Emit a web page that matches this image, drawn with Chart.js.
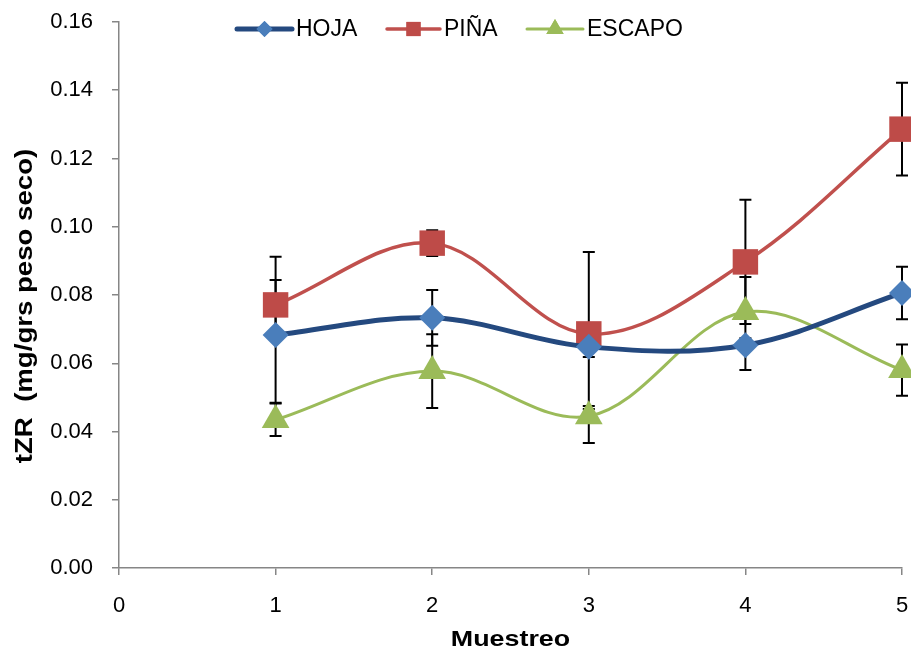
<!DOCTYPE html>
<html>
<head>
<meta charset="utf-8">
<script src="https://cdn.jsdelivr.net/npm/chart.js@4.4.0/dist/chart.umd.min.js"></script>
<style>
  html, body { margin: 0; padding: 0; background: #fff; }
  canvas { display: block; }
</style>
</head>
<body>
<canvas id="myChart" width="911" height="651"></canvas>
<script>
const ctx = document.getElementById('myChart');

// muestreos 1..5
const muestreo = [1, 2, 3, 4, 5];

// tZR (mg/grs peso seco) y error (+ / -) por muestreo
const hoja = [0.0683, 0.0733, 0.0648, 0.0653, 0.0806];
const hojaMas = [0.0161, 0.0082, 0.0030, 0.0020, 0.0077];
const hojaMenos = [0.0199, 0.0082, 0.0030, 0.0073, 0.0077];

const pina = [0.0771, 0.0952, 0.0686, 0.0897, 0.1286];
const pinaMas = [0.0141, 0.0038, 0.0240, 0.0182, 0.0136];
const pinaMenos = [0.0088, 0.0038, 0.0220, 0.0182, 0.0136];

const escapo = [0.0434, 0.0577, 0.0445, 0.0750, 0.0580];
const escapoMas = [0.0048, 0.0108, 0.0030, 0.0103, 0.0075];
const escapoMenos = [0.0047, 0.0108, 0.0079, 0.0103, 0.0075];

const tituloX = 'Muestreo';
const tituloY = 'tZR  (mg/grs peso seco)';

const axisGrey = '#868686';
const fontFam = '"Liberation Sans", Arial, sans-serif';

const toPoints = (vals) => vals.map((v, i) => ({ x: muestreo[i], y: v }));

// vertical error bars with caps, drawn under the lines/markers
const errorBars = {
    id: 'errorBars',
    beforeDatasetsDraw(chart) {
        const c = chart.ctx;
        const y = chart.scales.y;
        c.save();
        c.strokeStyle = '#000';
        c.lineWidth = 2;
        chart.data.datasets.forEach((ds, di) => {
            const meta = chart.getDatasetMeta(di);
            meta.data.forEach((pt, i) => {
                const v = ds.data[i].y;
                const top = y.getPixelForValue(v + ds.errPlus[i]);
                const bot = y.getPixelForValue(v - ds.errMinus[i]);
                c.beginPath();
                c.moveTo(pt.x, top);
                c.lineTo(pt.x, bot);
                c.moveTo(pt.x - 6, top);
                c.lineTo(pt.x + 6, top);
                c.moveTo(pt.x - 6, bot);
                c.lineTo(pt.x + 6, bot);
                c.stroke();
            });
        });
        c.restore();
    }
};

// legend row at the top: line + marker + label
const topLegend = {
    id: 'topLegend',
    afterDraw(chart) {
        const c = chart.ctx;
        const items = [
            { x0: 237, x1: 292, tx: 296 },
            { x0: 387, x1: 440, tx: 444 },
            { x0: 527, x1: 583, tx: 587 }
        ];
        const cy = 29;
        c.save();
        chart.data.datasets.forEach((ds, i) => {
            const it = items[i];
            c.strokeStyle = ds.borderColor;
            c.lineWidth = ds.borderWidth;
            c.lineCap = 'round';
            c.beginPath();
            c.moveTo(it.x0, cy);
            c.lineTo(it.x1, cy);
            c.stroke();
            c.fillStyle = ds.pointBackgroundColor;
            Chart.helpers.drawPoint(c, {
                pointStyle: ds.pointStyle,
                radius: ds.legendRadius,
                borderWidth: 0
            }, (it.x0 + it.x1) / 2, cy);
            c.fill();
            c.fillStyle = '#000';
            c.font = '23px ' + fontFam;
            c.textBaseline = 'middle';
            c.fillText(ds.label, it.tx, cy + 1);
        });
        c.restore();
    }
};

// axis titles, slightly stretched along the text direction
const axisTitles = {
    id: 'axisTitles',
    afterDraw(chart) {
        const c = chart.ctx;
        const area = chart.chartArea;
        c.save();
        c.fillStyle = '#000';
        c.textAlign = 'center';
        c.textBaseline = 'middle';
        c.font = 'bold 22px ' + fontFam;
        c.save();
        c.translate((area.left + area.right) / 2, 640);
        c.scale(1.22, 1);
        c.fillText(tituloX, 0, 0);
        c.restore();
        c.save();
        c.translate(26, 306);
        c.rotate(-Math.PI / 2);
        c.scale(1.2, 1);
        c.font = 'bold 23px ' + fontFam;
        c.fillText(tituloY, 0, 0);
        c.restore();
        c.restore();
    }
};

new Chart(ctx, {
    type: 'line',
    data: {
        datasets: [{
            label: 'HOJA',
            data: toPoints(hoja),
            errPlus: hojaMas,
            errMinus: hojaMenos,
            borderColor: '#24497F',
            borderWidth: 5,
            pointStyle: 'rectRot',
            pointRadius: 13,
            legendRadius: 8,
            pointBackgroundColor: '#4A7EBB',
            pointBorderWidth: 0
        }, {
            label: 'PIÑA',
            data: toPoints(pina),
            errPlus: pinaMas,
            errMinus: pinaMenos,
            borderColor: '#C0504D',
            borderWidth: 3.5,
            pointStyle: 'rect',
            pointRadius: 18,
            legendRadius: 10,
            pointBackgroundColor: '#BE4B48',
            pointBorderWidth: 0
        }, {
            label: 'ESCAPO',
            data: toPoints(escapo),
            errPlus: escapoMas,
            errMinus: escapoMenos,
            borderColor: '#9BBB59',
            borderWidth: 3,
            pointStyle: 'triangle',
            pointRadius: 16,
            legendRadius: 10,
            pointBackgroundColor: '#9BBB59',
            pointBorderWidth: 0
        }]
    },
    options: {
        responsive: false,
        animation: false,
        clip: false,
        elements: {
            line: { tension: 0.35, fill: false }
        },
        layout: {
            autoPadding: false,
            padding: { top: 22, right: 9, left: 0, bottom: 0 }
        },
        plugins: {
            legend: { display: false },
            tooltip: { enabled: false }
        },
        scales: {
            x: {
                type: 'linear',
                min: 0,
                max: 5,
                ticks: {
                    stepSize: 1,
                    color: '#000',
                    padding: 18,
                    font: { family: fontFam, size: 22 }
                },
                grid: { drawOnChartArea: false, drawTicks: true, tickLength: 7, color: axisGrey, lineWidth: 1.5 },
                border: { color: axisGrey, width: 1.5 },
                afterFit(scale) {
                    scale.height = 83;
                    scale.paddingLeft = 0;
                    scale.paddingRight = 0;
                }
            },
            y: {
                min: 0,
                max: 0.16,
                ticks: {
                    stepSize: 0.02,
                    color: '#000',
                    padding: 19,
                    font: { family: fontFam, size: 22 },
                    callback: (v) => v.toFixed(2)
                },
                grid: { drawOnChartArea: false, drawTicks: true, tickLength: 7, color: axisGrey, lineWidth: 1.5 },
                border: { color: axisGrey, width: 1.5 },
                afterFit(scale) {
                    scale.width = 119;
                    scale.paddingTop = 0;
                    scale.paddingBottom = 0;
                }
            }
        }
    },
    plugins: [errorBars, topLegend, axisTitles]
});
</script>
</body>
</html>
